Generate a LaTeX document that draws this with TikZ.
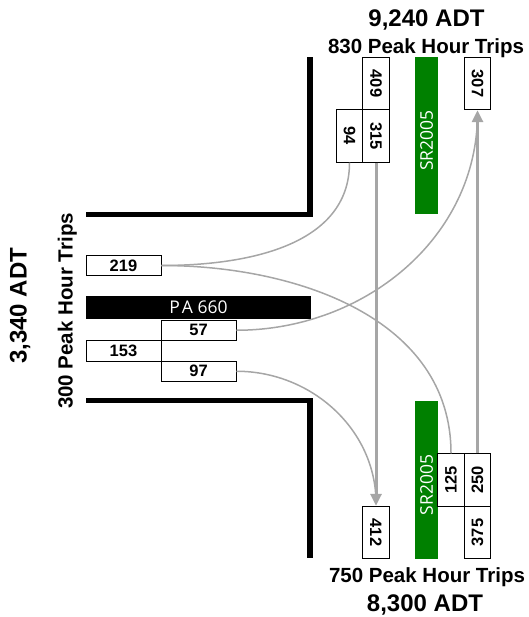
\documentclass[tikz,border=0pt]{standalone}
\usepackage{fontspec}
\setmainfont{Liberation Sans}
\newfontfamily\roadfont{Open Sans}
\usetikzlibrary{arrows.meta}
\definecolor{flowgray}{RGB}{166,166,166}
\definecolor{routegreen}{RGB}{0,128,0}

\begin{document}
\begin{tikzpicture}[x=1pt, y=1pt, >={Triangle[width=11pt,length=12pt]},
  numbox/.style={draw, line width=0.9pt, fill=white, inner sep=0pt, font=\bfseries\fontsize{16.5}{16.5}\selectfont},
  hbox/.style={numbox, minimum width=75pt, minimum height=20.5pt},
  vbox/.style={numbox, minimum width=26.5pt, minimum height=52.5pt},
  curb/.style={line width=5.3pt},
  routebar/.style={inner sep=0pt, draw=none},
  roadname/.style={text=white, inner sep=0pt, font=\roadfont\fontsize{17.5}{17.5}\selectfont},
  adtlabel/.style={anchor=base, inner sep=0pt, font=\bfseries\fontsize{24}{24}\selectfont},
  triplabel/.style={anchor=base, inner sep=0pt, font=\bfseries\fontsize{20.5}{20.5}\selectfont},
  thruflow/.style={->, draw=flowgray, line width=3pt},
  turnflow/.style={draw=flowgray, line width=1.5pt}]
  \useasboundingbox (0,0) rectangle (528,-617);

  % curb lines
  \draw[curb] (86,-214.5) -- (310,-214.5) -- (310,-57);
  \draw[curb] (86,-400.5) -- (310,-400.5) -- (310,-558);

  % roads
  \node[routebar, fill=black, minimum width=225pt, minimum height=23pt, roadname] (pa660) at (198.5,-307.5) {P\kern2pt A 660};
  \node[routebar, fill=routegreen, minimum width=23pt, minimum height=157pt] (srN) at (426.5,-135.5) {};
  \node[routebar, fill=routegreen, minimum width=23pt, minimum height=158pt] (srS) at (426.5,-480) {};
  \node[roadname, rotate=90] at ([yshift=-5pt]srN.center) {SR2005};
  \node[roadname, rotate=90] at ([yshift=-5pt]srS.center) {SR2005};

  % turning volumes
  \foreach \name/\x/\y in {219/123.5/265.5, 57/198.5/330.25, 153/123.5/350.75, 97/198.5/371.25}
    \node[hbox] (b\name) at (\x,-\y) {\name};
  \foreach \name/\x/\y in {409/376/83.5, 94/349.5/136, 315/376/136, 307/477.5/83.5, 412/376/532.5}
    \node[vbox] (b\name) at (\x,-\y) {\rotatebox{-90}{\name}};
  \foreach \name/\x/\y in {125/451/480, 250/477.5/480, 375/477.5/532.5}
    \node[vbox] (b\name) at (\x,-\y) {\rotatebox{90}{\name}};

  \draw[turnflow] (b94.south) to[out=-90, in=0] (b219.east);
  \draw[turnflow] (b219.east) to[out=0, in=90] (b125.north);
  \draw[turnflow, shorten >=3pt] (b57.east) to[out=0, in=-90] (b307.south);
  \draw[turnflow, shorten >=3pt] (b97.east) to[out=0, in=90] (b412.north);
  \draw[thruflow] (b315.south) -- (b412.north);
  \draw[thruflow] (b250.north) -- (b307.south);

  % approach totals
  \node[adtlabel] (adtN) at (426.5,-27) {9,240 ADT};
  \node[triplabel] (tripN) at (426,-53.3) {830 Peak Hour Trips};
  \node[triplabel] (tripS) at (427,-582) {750 Peak Hour Trips};
  \node[adtlabel] (adtS) at (425,-611.5) {8,300 ADT};
  \node[adtlabel, rotate=90] (adtW) at (26.7,-305.8) {3,340 ADT};
  \node[triplabel, rotate=90] (tripW) at (72.5,-311) {300 Peak Hour Trips};
\end{tikzpicture}
\end{document}
